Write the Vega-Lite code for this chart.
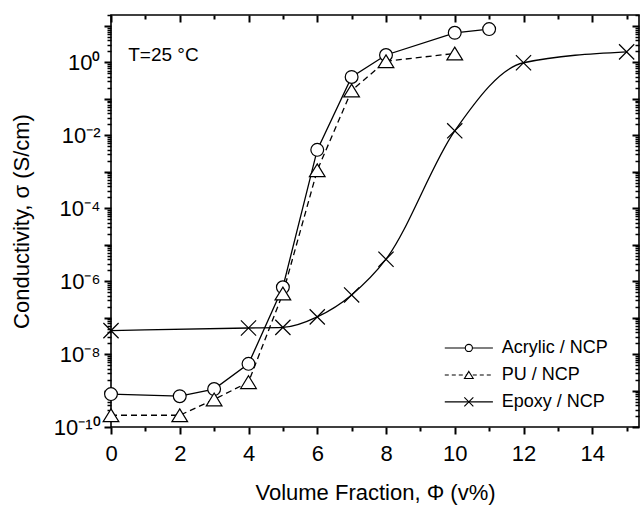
{
  "$schema": "https://vega.github.io/schema/vega-lite/v6.json",
  "autosize": {"type": "none"},
  "width": 528,
  "height": 412,
  "padding": {"left": 111, "top": 15, "right": 5, "bottom": 78},
  "background": "white",
  "datasets": {
    "pts": [
      {"series": "Acrylic / NCP", "x": 0, "y": 8e-10},
      {"series": "Acrylic / NCP", "x": 2, "y": 7e-10},
      {"series": "Acrylic / NCP", "x": 3, "y": 1.1e-9},
      {"series": "Acrylic / NCP", "x": 4, "y": 5.4e-9},
      {"series": "Acrylic / NCP", "x": 5, "y": 6.8e-7},
      {"series": "Acrylic / NCP", "x": 6, "y": 4e-3},
      {"series": "Acrylic / NCP", "x": 7, "y": 0.4},
      {"series": "Acrylic / NCP", "x": 8, "y": 1.6},
      {"series": "Acrylic / NCP", "x": 10, "y": 6.5},
      {"series": "Acrylic / NCP", "x": 11, "y": 8.2},
      {"series": "PU / NCP", "x": 0, "y": 2.1e-10},
      {"series": "PU / NCP", "x": 2, "y": 2.1e-10},
      {"series": "PU / NCP", "x": 3, "y": 5.7e-10},
      {"series": "PU / NCP", "x": 4, "y": 1.7e-9},
      {"series": "PU / NCP", "x": 5, "y": 4.6e-7},
      {"series": "PU / NCP", "x": 6, "y": 1.1e-3},
      {"series": "PU / NCP", "x": 7, "y": 0.17},
      {"series": "PU / NCP", "x": 8, "y": 1.08},
      {"series": "PU / NCP", "x": 10, "y": 1.76},
      {"series": "Epoxy / NCP", "x": 0, "y": 4.4e-8},
      {"series": "Epoxy / NCP", "x": 4, "y": 5.2e-8},
      {"series": "Epoxy / NCP", "x": 5, "y": 5.4e-8},
      {"series": "Epoxy / NCP", "x": 6, "y": 1.05e-7},
      {"series": "Epoxy / NCP", "x": 7, "y": 4.2e-7},
      {"series": "Epoxy / NCP", "x": 8, "y": 4e-6},
      {"series": "Epoxy / NCP", "x": 10, "y": 0.0133},
      {"series": "Epoxy / NCP", "x": 12, "y": 0.98},
      {"series": "Epoxy / NCP", "x": 15, "y": 1.95}
    ]
  },
  "config": {
    "font": "Liberation Sans",
    "view": {"stroke": "black", "strokeWidth": 1.6},
    "axis": {
      "labelFont": "Liberation Sans",
      "titleFont": "Liberation Sans",
      "labelColor": "black",
      "titleColor": "black",
      "ticks": true,
      "tickColor": "black",
      "tickOpacity": 1,
      "tickWidth": 2,
      "grid": false,
      "domain": false,
      "labelFlush": false,
      "labelOverlap": false,
      "titleFontWeight": "normal",
      "labelFontSize": 22,
      "titleFontSize": 22
    }
  },
  "resolve": {"axis": {"x": "independent", "y": "independent"}},
  "layer": [
    {
      "data": {"name": "pts"},
      "transform": [{"filter": "datum.series === 'Epoxy / NCP'"}],
      "mark": {"type": "line", "interpolate": "monotone", "color": "black", "strokeWidth": 1.3},
      "encoding": {
        "x": {
          "field": "x", "type": "quantitative",
          "scale": {"domain": [0, 15.36], "nice": false, "zero": false},
          "axis": {"orient": "bottom", "values": [0, 2, 4, 6, 8, 10, 12, 14], "tickColor": "black", "tickWidth": 2, "tickSize": 7, "labelPadding": 9, "title": "Volume Fraction, Φ (v%)", "titlePadding": 18}
        },
        "y": {
          "field": "y", "type": "quantitative",
          "scale": {"type": "log", "domain": [1e-10, 20], "nice": false},
          "axis": {
            "orient": "left",
            "values": [1e-10, 1e-9, 1e-8, 1e-7, 1e-6, 1e-5, 1e-4, 1e-3, 1e-2, 1e-1, 1, 10],
            "tickColor": "black", "tickWidth": 2, "tickSize": 7, "labelPadding": 4,
            "labelExpr": "round(log(datum.value)/LN10) == 0 ? '10⁰' : round(log(datum.value)/LN10) == -2 ? '10⁻²' : round(log(datum.value)/LN10) == -4 ? '10⁻⁴' : round(log(datum.value)/LN10) == -6 ? '10⁻⁶' : round(log(datum.value)/LN10) == -8 ? '10⁻⁸' : round(log(datum.value)/LN10) == -10 ? '10⁻¹⁰' : ''",
            "title": "Conductivity, σ (S/cm)", "titlePadding": 20
          }
        }
      }
    },
    {
      "data": {"name": "pts"},
      "transform": [{"filter": "datum.series === 'Acrylic / NCP'"}],
      "mark": {"type": "line", "color": "black", "strokeWidth": 1.3},
      "encoding": {
        "x": {
          "field": "x", "type": "quantitative",
          "axis": {"orient": "bottom", "values": [1, 3, 5, 7, 9, 11, 13, 15], "tickColor": "black", "tickWidth": 2, "tickSize": 4, "labels": false, "title": null}
        },
        "y": {
          "field": "y", "type": "quantitative",
          "axis": {
            "orient": "left", "tickColor": "black", "tickSize": 4, "tickWidth": 1.5, "labels": false, "title": null,
            "values": [2e-10, 3e-10, 4e-10, 5e-10, 6e-10, 7e-10, 8e-10, 9e-10, 2e-9, 3e-9, 4e-9, 5e-9, 6e-9, 7e-9, 8e-9, 9e-9, 2e-8, 3e-8, 4e-8, 5e-8, 6e-8, 7e-8, 8e-8, 9e-8, 2e-7, 3e-7, 4e-7, 5e-7, 6e-7, 7e-7, 8e-7, 9e-7, 2e-6, 3e-6, 4e-6, 5e-6, 6e-6, 7e-6, 8e-6, 9e-6, 2e-5, 3e-5, 4e-5, 5e-5, 6e-5, 7e-5, 8e-5, 9e-5, 2e-4, 3e-4, 4e-4, 5e-4, 6e-4, 7e-4, 8e-4, 9e-4, 2e-3, 3e-3, 4e-3, 5e-3, 6e-3, 7e-3, 8e-3, 9e-3, 2e-2, 3e-2, 4e-2, 5e-2, 6e-2, 7e-2, 8e-2, 9e-2, 2e-1, 3e-1, 4e-1, 5e-1, 6e-1, 7e-1, 8e-1, 9e-1, 2, 3, 4, 5, 6, 7, 8, 9, 20]
          }
        }
      }
    },
    {
      "data": {"name": "pts"},
      "transform": [{"filter": "datum.series === 'PU / NCP'"}],
      "mark": {"type": "line", "color": "black", "strokeWidth": 1.3, "strokeDash": [6, 4]},
      "encoding": {
        "x": {
          "field": "x", "type": "quantitative",
          "axis": {"orient": "top", "values": [0, 2, 4, 6, 8, 10, 12, 14], "tickColor": "black", "tickWidth": 2, "tickSize": -7, "labels": false, "title": null}
        },
        "y": {
          "field": "y", "type": "quantitative",
          "axis": {"orient": "right", "values": [1e-10, 1e-9, 1e-8, 1e-7, 1e-6, 1e-5, 1e-4, 1e-3, 1e-2, 1e-1, 1, 10], "tickColor": "black", "tickWidth": 2, "tickSize": -7, "labels": false, "title": null}
        }
      }
    },
    {
      "data": {"name": "pts"},
      "mark": {"type": "point", "filled": true, "fill": "white", "stroke": "black", "strokeWidth": 1.2, "opacity": 1, "size": 256},
      "encoding": {
        "x": {
          "field": "x", "type": "quantitative",
          "axis": {"orient": "top", "values": [1, 3, 5, 7, 9, 11, 13, 15], "tickColor": "black", "tickWidth": 2, "tickSize": -4, "labels": false, "title": null}
        },
        "y": {
          "field": "y", "type": "quantitative",
          "axis": {
            "orient": "right", "tickColor": "black", "tickSize": -4, "tickWidth": 1.5, "labels": false, "title": null,
            "values": [2e-10, 3e-10, 4e-10, 5e-10, 6e-10, 7e-10, 8e-10, 9e-10, 2e-9, 3e-9, 4e-9, 5e-9, 6e-9, 7e-9, 8e-9, 9e-9, 2e-8, 3e-8, 4e-8, 5e-8, 6e-8, 7e-8, 8e-8, 9e-8, 2e-7, 3e-7, 4e-7, 5e-7, 6e-7, 7e-7, 8e-7, 9e-7, 2e-6, 3e-6, 4e-6, 5e-6, 6e-6, 7e-6, 8e-6, 9e-6, 2e-5, 3e-5, 4e-5, 5e-5, 6e-5, 7e-5, 8e-5, 9e-5, 2e-4, 3e-4, 4e-4, 5e-4, 6e-4, 7e-4, 8e-4, 9e-4, 2e-3, 3e-3, 4e-3, 5e-3, 6e-3, 7e-3, 8e-3, 9e-3, 2e-2, 3e-2, 4e-2, 5e-2, 6e-2, 7e-2, 8e-2, 9e-2, 2e-1, 3e-1, 4e-1, 5e-1, 6e-1, 7e-1, 8e-1, 9e-1, 2, 3, 4, 5, 6, 7, 8, 9, 20]
          }
        },
        "shape": {
          "field": "series", "type": "nominal", "legend": null,
          "scale": {
            "domain": ["Acrylic / NCP", "PU / NCP", "Epoxy / NCP"],
            "range": ["M0.8,0A0.8,0.8,0,1,1,-0.8,0A0.8,0.8,0,1,1,0.8,0Z", "M0,-0.8L0.98,0.8L-0.98,0.8Z", "M-0.95,-0.95L0.95,0.95M-0.95,0.95L0.95,-0.95"]
          }
        }
      }
    },
    {
      "data": {"values": [{}]},
      "mark": {"type": "rule", "color": "black", "strokeWidth": 1.2},
      "encoding": {
        "x": {"datum": 9.71, "type": "quantitative", "axis": null},
        "x2": {"datum": 11.11},
        "y": {"datum": 1.47e-8, "type": "quantitative", "axis": null}
      }
    },
    {
      "data": {"values": [{}]},
      "mark": {"type": "rule", "color": "black", "strokeWidth": 1.2, "strokeDash": [4, 3]},
      "encoding": {
        "x": {"datum": 9.71, "type": "quantitative", "axis": null},
        "x2": {"datum": 11.11},
        "y": {"datum": 2.67e-9, "type": "quantitative", "axis": null}
      }
    },
    {
      "data": {"values": [{}]},
      "mark": {"type": "rule", "color": "black", "strokeWidth": 1.2},
      "encoding": {
        "x": {"datum": 9.71, "type": "quantitative", "axis": null},
        "x2": {"datum": 11.11},
        "y": {"datum": 4.9e-10, "type": "quantitative", "axis": null}
      }
    },
    {
      "data": {"values": [{}]},
      "mark": {"type": "point", "filled": true, "fill": "white", "stroke": "black", "strokeWidth": 1.1, "opacity": 1, "size": 80, "shape": "M0.8,0A0.8,0.8,0,1,1,-0.8,0A0.8,0.8,0,1,1,0.8,0Z"},
      "encoding": {
        "x": {"datum": 10.41, "type": "quantitative", "axis": null},
        "y": {"datum": 1.47e-8, "type": "quantitative", "axis": null}
      }
    },
    {
      "data": {"values": [{}]},
      "mark": {"type": "point", "filled": true, "fill": "white", "stroke": "black", "strokeWidth": 1.1, "opacity": 1, "size": 80, "shape": "M0,-0.8L0.98,0.8L-0.98,0.8Z"},
      "encoding": {
        "x": {"datum": 10.41, "type": "quantitative", "axis": null},
        "y": {"datum": 2.67e-9, "type": "quantitative", "axis": null}
      }
    },
    {
      "data": {"values": [{}]},
      "mark": {"type": "point", "filled": true, "fill": "white", "stroke": "black", "strokeWidth": 1.1, "opacity": 1, "size": 90, "shape": "M-0.95,-0.95L0.95,0.95M-0.95,0.95L0.95,-0.95"},
      "encoding": {
        "x": {"datum": 10.41, "type": "quantitative", "axis": null},
        "y": {"datum": 4.9e-10, "type": "quantitative", "axis": null}
      }
    },
    {
      "data": {"values": [{}]},
      "mark": {"type": "text", "align": "left", "baseline": "middle", "fontSize": 18, "font": "Liberation Sans", "color": "black"},
      "encoding": {
        "x": {"datum": 11.37, "type": "quantitative", "axis": null},
        "y": {"datum": 1.47e-8, "type": "quantitative", "axis": null},
        "text": {"value": "Acrylic / NCP"}
      }
    },
    {
      "data": {"values": [{}]},
      "mark": {"type": "text", "align": "left", "baseline": "middle", "fontSize": 18, "font": "Liberation Sans", "color": "black"},
      "encoding": {
        "x": {"datum": 11.37, "type": "quantitative", "axis": null},
        "y": {"datum": 2.67e-9, "type": "quantitative", "axis": null},
        "text": {"value": "PU / NCP"}
      }
    },
    {
      "data": {"values": [{}]},
      "mark": {"type": "text", "align": "left", "baseline": "middle", "fontSize": 18, "font": "Liberation Sans", "color": "black"},
      "encoding": {
        "x": {"datum": 11.37, "type": "quantitative", "axis": null},
        "y": {"datum": 4.9e-10, "type": "quantitative", "axis": null},
        "text": {"value": "Epoxy / NCP"}
      }
    },
    {
      "data": {"values": [{}]},
      "mark": {"type": "text", "align": "left", "baseline": "middle", "fontSize": 19, "font": "Liberation Sans", "color": "black"},
      "encoding": {
        "x": {"datum": 0.5, "type": "quantitative", "axis": null},
        "y": {"datum": 1.65, "type": "quantitative", "axis": null},
        "text": {"value": "T=25 °C"}
      }
    }
  ]
}
